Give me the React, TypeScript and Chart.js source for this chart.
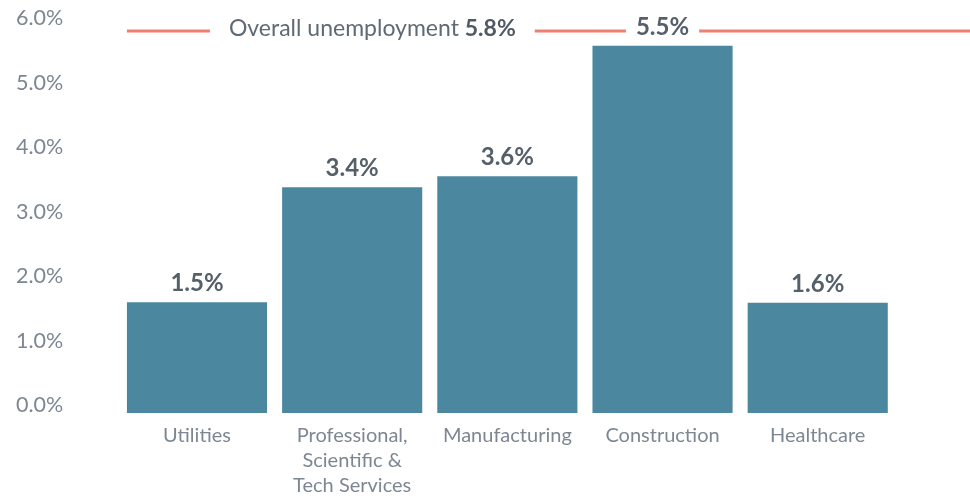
import React, { useEffect, useRef } from "react";
import { Chart, registerables } from "chart.js";

Chart.register(...registerables);

const categories: (string | string[])[] = [
  "Utilities",
  ["Professional,", "Scientific &", "Tech Services"],
  "Manufacturing",
  "Construction",
  "Healthcare",
];
const barValues = [1.6, 3.38, 3.55, 5.57, 1.59];
const valueLabels = ["1.5%", "3.4%", "3.6%", "5.5%", "1.6%"];
const yTicks = [0, 1, 2, 3, 4, 5, 6];
const overallValue = 5.8;
const overallText = "Overall unemployment ";
const overallValueText = "5.8%";

const FONT = "Lato";
const BAR_COLOR = "#4c87a0";
const TICK_COLOR = "#7d8792";
const LABEL_COLOR = "#55606a";
const LINE_COLOR = "#ef7f73";
const Y_MIN = -0.116;

const overlayPlugin = {
  id: "overlay",
  afterDatasetsDraw(chart: any) {
    const { ctx, chartArea, scales } = chart;
    const y = scales.y;
    const meta = chart.getDatasetMeta(0);
    const first = meta.data[0];
    const lineY = y.getPixelForValue(overallValue);
    ctx.save();
    // line
    ctx.strokeStyle = LINE_COLOR;
    ctx.lineWidth = 3;
    ctx.beginPath();
    ctx.moveTo(first.x - first.width / 2, lineY);
    ctx.lineTo(chart.width, lineY);
    ctx.stroke();

    // overall label
    const normalFont = `400 23px ${FONT}`;
    const boldFont = `700 23px ${FONT}`;
    ctx.font = normalFont;
    const w1 = ctx.measureText(overallText).width;
    ctx.font = boldFont;
    const w2 = ctx.measureText(overallValueText).width;
    const total = w1 + w2;
    const cx = chartArea.left + (chartArea.right - chartArea.left) * 0.326;
    const x0 = cx - total / 2;
    ctx.fillStyle = "#ffffff";
    ctx.fillRect(x0 - 19, lineY - 8, total + 38, 16);
    ctx.textBaseline = "alphabetic";
    ctx.textAlign = "left";
    ctx.font = normalFont;
    ctx.fillStyle = "#5f6a74";
    ctx.fillText(overallText, x0, lineY + 5);
    ctx.font = boldFont;
    ctx.fillStyle = "#505a64";
    ctx.fillText(overallValueText, x0 + w1, lineY + 5);

    // value labels
    ctx.font = `700 24px ${FONT}`;
    meta.data.forEach((bar: any, i: number) => {
      const t = valueLabels[i];
      const w = ctx.measureText(t).width;
      const by = bar.y - 11;
      ctx.fillStyle = "#ffffff";
      ctx.fillRect(bar.x - w / 2 - 10, by - 19, w + 20, 23);
      ctx.fillStyle = LABEL_COLOR;
      ctx.textAlign = "center";
      ctx.fillText(t, bar.x, by);
    });
    ctx.restore();
  },
};

export default function App() {
  const ref = useRef<HTMLCanvasElement>(null);
  useEffect(() => {
    document.body.style.margin = "0";
    const chart = new Chart(ref.current!, {
      type: "bar",
      data: {
        labels: categories,
        datasets: [
          {
            data: barValues,
            backgroundColor: BAR_COLOR,
            base: Y_MIN,
            barPercentage: 0.903,
            categoryPercentage: 1,
          } as any,
        ],
      },
      options: {
        animation: false,
        responsive: false,
        maintainAspectRatio: false,
        layout: { padding: { left: 16, right: 74.7, top: 18, bottom: 0 } },
        plugins: { legend: { display: false }, tooltip: { enabled: false } },
        scales: {
          x: {
            grid: { display: false, drawTicks: false },
            border: { display: false },
            ticks: {
              color: TICK_COLOR,
              font: { family: FONT, size: 20, lineHeight: 1.25 },
              padding: 10,
              maxRotation: 0,
              autoSkip: false,
            },
            afterFit: (s: any) => {
              s.height = 83;
            },
          },
          y: {
            min: Y_MIN,
            max: 6,
            grid: { display: false, drawTicks: false },
            border: { display: false },
            ticks: {
              color: TICK_COLOR,
              font: { family: FONT, size: 21.5 },
              crossAlign: "far",
              callback: (v: any) => Number(v).toFixed(1) + "%",
            },
            afterBuildTicks: (s: any) => {
              s.ticks = yTicks.map((v) => ({ value: v }));
            },
            afterFit: (s: any) => {
              s.width = 103.4;
            },
          },
        },
      },
      plugins: [overlayPlugin],
    });
    return () => chart.destroy();
  }, []);
  return (
    <div style={{ width: 970, height: 496 }}>
      <canvas ref={ref} width={970} height={496} style={{ width: 970, height: 496 }} />
    </div>
  );
}
